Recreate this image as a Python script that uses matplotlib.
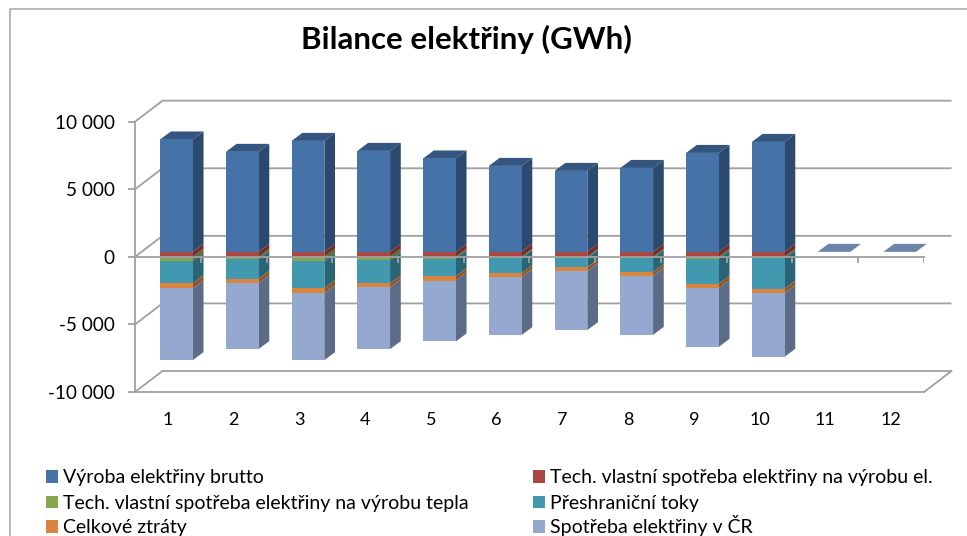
import matplotlib
matplotlib.use("Agg")
import matplotlib.pyplot as plt
from matplotlib.patches import Polygon, Patch
from matplotlib.lines import Line2D
import numpy as np

plt.rcParams['font.family'] = ['Lato', 'DejaVu Sans']

months = ["1", "2", "3", "4", "5", "6", "7", "8", "9", "10", "11", "12"]
y_ticks = [10000, 5000, 0, -5000, -10000]
y_labels = ["10 000", "5 000", "0", "-5 000", "-10 000"]
title = "Bilance elektřiny (GWh)"

vyroba = [8315, 7400, 8210, 7470, 6910, 6360, 5990, 6210, 7320, 8135, 0, 0]
vs_el = [370, 370, 370, 370, 370, 370, 370, 370, 370, 370, 0, 0]
vs_teplo = [320, 190, 320, 245, 135, 95, 95, 95, 135, 95, 0, 0]
toky = [1630, 1435, 2000, 1725, 1295, 1110, 690, 1035, 1865, 2255, 0, 0]
ztraty = [390, 340, 370, 295, 320, 295, 295, 275, 320, 335, 0, 0]
spotreba = [5300, 4860, 4955, 4565, 4510, 4290, 4340, 4365, 4340, 4710, 0, 0]

names = ["Výroba elektřiny brutto",
         "Tech. vlastní spotřeba elektřiny na výrobu el.",
         "Tech. vlastní spotřeba elektřiny na výrobu tepla",
         "Přeshraniční toky", "Celkové ztráty", "Spotřeba elektřiny v ČR"]
front = ["#4572A7", "#AA4643", "#89A54E", "#4198AF", "#DB843D", "#95A9D0"]
side = ["#2C4A6F", "#752E2C", "#5A6C33", "#296574", "#905829", "#5C6B86"]
GREY = "#A0A0A0"

W, H = 967, 536
fig = plt.figure(figsize=(W / 100, H / 100), dpi=100)
L, R, T, B = 135, 924, 121.7, 392
ax = fig.add_axes([L / W, 1 - B / H, (R - L) / W, (B - T) / H])
ax.set_xlim(0.5, 12.5)
ax.set_ylim(-10000, 10000)
ax.patch.set_alpha(0)

px_x = 1 / ((R - L) / 12)            # categories per pixel
px_y = 20000 / (B - T)               # GWh per pixel
DX, DY = 27.5 * px_x, 21 * px_y      # full depth of the chart
GX, GY = 8.6 * px_x, 5 * px_y        # front gap of the bars
SX, SY = 10.7 * px_x, 8 * px_y       # depth of the bars
BW = 32.7 * px_x
LW = 1.3

# walls
for v in y_ticks:
    ax.plot([0.5, 0.5 + DX, 12.5 + DX], [v, v + DY, v + DY], color=GREY, lw=LW,
            clip_on=False, zorder=1, solid_capstyle='butt')
ax.plot([12.5, 12.5 + DX], [-10000, -10000 + DY], color=GREY, lw=LW, clip_on=False, zorder=1)

# bars
x = np.arange(1, 13) + GX
neg_series = [vs_el, vs_teplo, toky, ztraty, spotreba]


def side_face(xc, y0, y1, color):
    xr = xc + BW / 2
    ax.add_patch(Polygon([(xr, y0), (xr + SX, y0 + SY), (xr + SX, y1 + SY), (xr, y1)],
                         closed=True, fc=color, ec='none', clip_on=False, zorder=3))


top = np.array(vyroba, dtype=float)
ax.bar(x, top + 0.0, BW, bottom=GY, color=front[0], lw=0, zorder=4, clip_on=False)
for xc, h in zip(x, top):
    side_face(xc, GY, GY + h, side[0])
    xl, xr = xc - BW / 2, xc + BW / 2
    fc = "#33557F" if h > 0 else "#6F84A9"
    ax.add_patch(Polygon([(xl, GY + h), (xr, GY + h), (xr + SX, GY + h + SY), (xl + SX, GY + h + SY)],
                         closed=True, fc=fc, ec='none', clip_on=False, zorder=3))

cum = np.zeros(12)
for vals, fc, sc in zip(neg_series, front[1:], side[1:]):
    vals = np.array(vals, dtype=float)
    ax.bar(x, -vals, BW, bottom=GY - cum, color=fc, lw=0, zorder=4, clip_on=False)
    for xc, c, v in zip(x, cum, vals):
        if v > 0:
            side_face(xc, GY - c, GY - c - v, sc)
    cum += vals

# front zero axis with its ticks
ax.plot([0.5, 12.5], [0, 0], color=GREY, lw=LW, zorder=6, clip_on=False)
ax.vlines(np.arange(1.5, 13), -6.5 * px_y, 0, color=GREY, lw=LW, zorder=6)

# axes
for s in ("top", "right"):
    ax.spines[s].set_visible(False)
for s in ("left", "bottom"):
    ax.spines[s].set_color(GREY)
    ax.spines[s].set_linewidth(LW)
    ax.spines[s].set_zorder(2)
ax.set_yticks(y_ticks, y_labels)
ax.set_xticks(np.arange(1, 13), months)
ax.tick_params(axis='y', length=5, width=LW, color=GREY, pad=9.5, labelsize=13.6, labelcolor="#000000")
ax.tick_params(axis='x', length=0, pad=14.5, labelsize=13, labelcolor="#000000")

# chart frame
fig.add_artist(Line2D([9.5 / W, 9.5 / W, 1], [0, 1 - 8.5 / H, 1 - 8.5 / H], color="#A6A6A6", lw=1.1))

fig.text(466.5 / W, 1 - 39.5 / H, title, ha='center', va='center', fontsize=22.5, fontweight='bold', color="#000000")

# legend: two columns read row by row, each row on its own baseline
kw = dict(frameon=False, fontsize=14, handlelength=0.62, handleheight=0.62, handletextpad=0.24,
          borderpad=0, borderaxespad=0, loc='lower left', labelcolor="#000000")
col_x = [46, 533]
row_bottom = [486.5, 512, 536.5]
for i, (name, c) in enumerate(zip(names, front)):
    fig.legend([Patch(fc=c, ec='none')], [name],
               bbox_to_anchor=(col_x[i % 2] / W, 1 - row_bottom[i // 2] / H), **kw)

fig.savefig("out.png", dpi=100)
